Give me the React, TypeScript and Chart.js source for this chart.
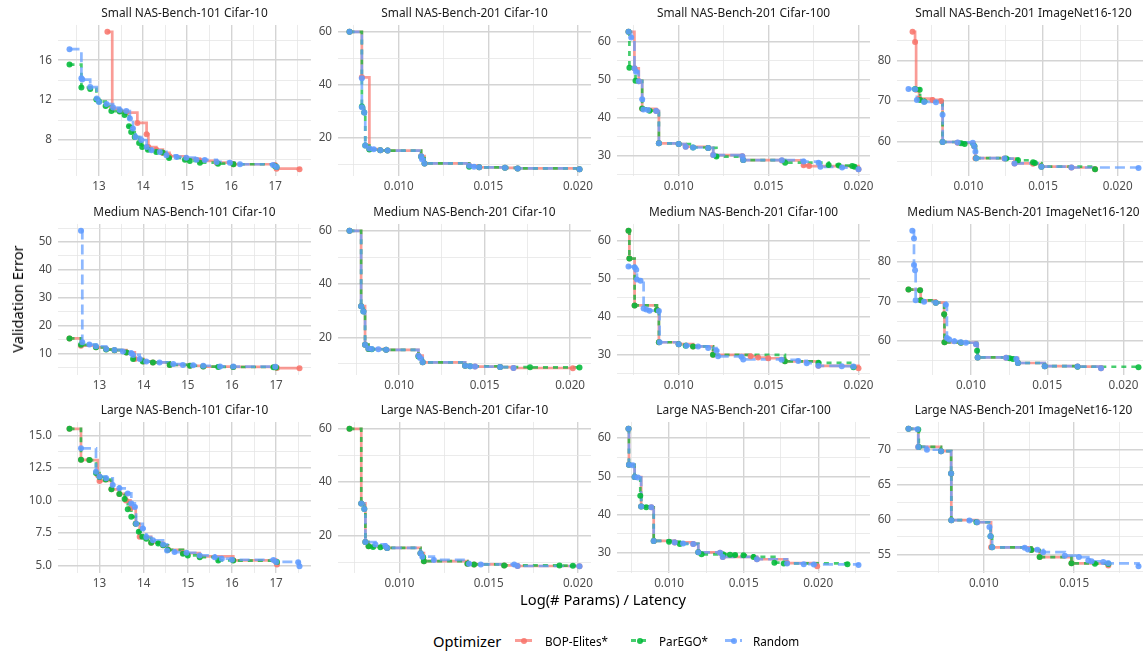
import React, { useEffect, useRef } from "react";
import { Chart, registerables } from "chart.js";

Chart.register(...registerables);
Chart.defaults.font.family = "'Noto Sans', 'DejaVu Sans', sans-serif";

type Pt = [number, number];

const optimizers = ["BOP-Elites*", "ParEGO*", "Random"];
const optimizerColors = ["#F8766D", "#00BA38", "#619CFF"];
const optimizerDashes: number[][] = [[], [5, 5], [10, 5]];

const panelTitles = [
  "Small NAS-Bench-101 Cifar-10",
  "Small NAS-Bench-201 Cifar-10",
  "Small NAS-Bench-201 Cifar-100",
  "Small NAS-Bench-201 ImageNet16-120",
  "Medium NAS-Bench-101 Cifar-10",
  "Medium NAS-Bench-201 Cifar-10",
  "Medium NAS-Bench-201 Cifar-100",
  "Medium NAS-Bench-201 ImageNet16-120",
  "Large NAS-Bench-101 Cifar-10",
  "Large NAS-Bench-201 Cifar-10",
  "Large NAS-Bench-201 Cifar-100",
  "Large NAS-Bench-201 ImageNet16-120",
];

// ---------- Small NAS-Bench-101 Cifar-10 ----------
const p1Bop: Pt[] = [[13.19, 18.84], [13.3, 11.15], [13.47, 10.9], [13.62, 10.75], [13.87, 9.71], [14.08, 8.57], [14.12, 7.3], [14.3, 7.03], [14.45, 6.7], [14.6, 6.37], [14.98, 6.13], [15.29, 5.9], [15.67, 5.73], [16.05, 5.57], [16.99, 5.5], [17.03, 5.13], [17.55, 5.08]];
const p1Parego: Pt[] = [[12.33, 15.56], [12.6, 13.26], [12.8, 13.12], [12.94, 12.05], [13.0, 11.85], [13.15, 11.4], [13.28, 10.9], [13.47, 10.85], [13.58, 10.5], [13.68, 9.38], [13.73, 8.8], [13.81, 8.3], [13.91, 7.7], [13.98, 7.3], [14.11, 7.03], [14.3, 6.8], [14.44, 6.74], [14.59, 6.2], [14.95, 6.03], [15.06, 5.9], [15.29, 5.73], [15.7, 5.63], [16.05, 5.57], [16.99, 5.4], [17.03, 5.3]];
const p1Random: Pt[] = [[12.33, 17.1], [12.6, 14.2], [12.62, 14.06], [12.8, 13.3], [12.95, 12.15], [13.0, 11.8], [13.17, 11.6], [13.32, 11.25], [13.47, 11.0], [13.62, 10.9], [13.7, 10.15], [13.77, 9.15], [13.83, 8.3], [13.96, 8.0], [14.08, 7.3], [14.19, 6.97], [14.38, 6.8], [14.53, 6.47], [14.76, 6.3], [14.98, 6.23], [15.21, 6.03], [15.4, 6.0], [15.67, 5.8], [15.97, 5.73], [16.2, 5.57], [16.95, 5.5], [17.03, 5.3]];

// ---------- Small NAS-Bench-201 Cifar-10 ----------
const p2Bop: Pt[] = [[0.00725, 60.0], [0.00794, 42.8], [0.00836, 15.7], [0.00897, 15.2], [0.00938, 15.1], [0.01125, 13.0], [0.01144, 10.25], [0.01393, 9.4], [0.01449, 8.8], [0.01593, 8.6], [0.01664, 8.35], [0.02009, 8.1]];
const p2Parego: Pt[] = [[0.00725, 60.0], [0.00794, 31.8], [0.00807, 29.5], [0.00813, 17.0], [0.00836, 15.5], [0.00897, 15.2], [0.00938, 15.1], [0.01125, 12.8], [0.01144, 10.25], [0.01393, 9.0], [0.01449, 8.8], [0.01593, 8.6], [0.01664, 8.35], [0.02009, 8.1]];
const p2Random: Pt[] = [[0.00725, 60.0], [0.00794, 42.5], [0.00794, 31.5], [0.00807, 29.5], [0.00813, 17.0], [0.00836, 15.9], [0.0086, 15.6], [0.00897, 15.2], [0.00938, 15.1], [0.01125, 13.0], [0.0113, 11.8], [0.01144, 10.25], [0.01393, 9.4], [0.0142, 9.0], [0.01449, 8.8], [0.01593, 8.6], [0.01664, 8.35], [0.02009, 8.1]];

// ---------- Small NAS-Bench-201 Cifar-100 ----------
const p3Bop: Pt[] = [[0.00721, 62.6], [0.00754, 53.0], [0.00778, 49.6], [0.00797, 42.3], [0.00875, 41.7], [0.0089, 33.2], [0.01, 33.0], [0.01039, 32.3], [0.01164, 32.0], [0.01192, 30.1], [0.01354, 29.8], [0.01359, 28.8], [0.01574, 28.7], [0.01695, 27.4], [0.01725, 27.2], [0.02, 26.4]];
const p3Parego: Pt[] = [[0.00721, 62.6], [0.00726, 53.1], [0.0076, 49.7], [0.00797, 42.4], [0.00838, 41.8], [0.0089, 33.2], [0.01, 33.0], [0.0108, 32.1], [0.01164, 32.0], [0.0121, 29.7], [0.01359, 28.8], [0.01592, 28.1], [0.01834, 27.5], [0.0189, 27.35], [0.01965, 27.25], [0.01978, 27.0]];
const p3Random: Pt[] = [[0.00721, 62.6], [0.00736, 61.1], [0.00754, 53.0], [0.00763, 52.1], [0.00778, 49.6], [0.00797, 44.8], [0.00804, 42.1], [0.00829, 42.0], [0.00875, 41.7], [0.0089, 33.2], [0.01, 33.0], [0.01039, 32.3], [0.0108, 32.1], [0.01164, 32.0], [0.01192, 30.1], [0.01354, 29.8], [0.01359, 28.8], [0.01574, 28.75], [0.01695, 28.4], [0.01778, 28.1], [0.01788, 27.0], [0.01909, 26.8], [0.02, 26.4]];

// ---------- Small NAS-Bench-201 ImageNet16-120 ----------
const p4Bop: Pt[] = [[0.00626, 87.1], [0.00643, 84.6], [0.0065, 72.8], [0.0067, 70.6], [0.0076, 70.3], [0.00816, 70.0], [0.00827, 59.9], [0.00928, 59.7], [0.0104, 58.8], [0.01047, 55.9], [0.01242, 55.8], [0.01309, 54.6], [0.01433, 54.5], [0.01489, 53.8], [0.0169, 53.6], [0.01848, 53.2]];
const p4Parego: Pt[] = [[0.00643, 73.0], [0.00674, 72.8], [0.00677, 70.3], [0.00704, 69.9], [0.00827, 59.9], [0.00951, 59.6], [0.00975, 59.4], [0.0104, 58.9], [0.01052, 55.9], [0.01253, 55.8], [0.01332, 55.4], [0.01433, 54.9], [0.01445, 54.7], [0.01489, 53.8], [0.01848, 53.2]];
const p4Random: Pt[] = [[0.00599, 73.0], [0.00643, 72.9], [0.00655, 70.3], [0.00704, 69.8], [0.00783, 69.7], [0.00827, 66.6], [0.00828, 59.9], [0.00928, 59.8], [0.01029, 59.7], [0.0104, 58.8], [0.01047, 57.5], [0.01052, 55.9], [0.01242, 55.8], [0.01309, 54.6], [0.01489, 53.8], [0.0169, 53.6], [0.02139, 53.5]];

// ---------- Medium NAS-Bench-101 Cifar-10 ----------
const p5Bop: Pt[] = [[12.32, 15.4], [12.58, 12.8], [12.92, 12.2], [13.15, 11.5], [13.34, 11.2], [13.61, 10.4], [13.8, 8.0], [14.0, 7.1], [14.21, 6.8], [14.59, 5.9], [15.05, 5.6], [15.35, 5.3], [16.03, 5.2], [16.98, 5.15], [17.02, 4.78], [17.53, 4.75]];
const p5Parego: Pt[] = [[12.32, 15.4], [12.58, 13.1], [12.92, 12.2], [13.15, 11.4], [13.34, 11.2], [13.61, 10.4], [13.76, 8.0], [13.98, 7.1], [14.21, 6.8], [14.59, 5.9], [15.05, 5.6], [15.35, 5.3], [15.69, 5.2], [16.03, 5.15], [16.94, 5.1], [17.0, 5.0]];
const p5Random: Pt[] = [[12.58, 54.0], [12.61, 14.0], [12.77, 13.2], [12.92, 12.6], [13.15, 11.6], [13.34, 11.3], [13.53, 10.7], [13.72, 10.1], [13.76, 9.5], [13.91, 8.0], [14.06, 7.1], [14.36, 6.8], [14.67, 6.2], [14.89, 5.9], [15.12, 5.8], [15.35, 5.6], [15.73, 5.35], [16.03, 5.3], [16.98, 5.25]];

// ---------- Medium NAS-Bench-201 Cifar-10 ----------
const p6Bop: Pt[] = [[0.0071, 60.0], [0.00778, 31.7], [0.00801, 17.2], [0.00821, 15.6], [0.00924, 15.3], [0.01113, 13.1], [0.01138, 10.6], [0.01386, 9.3], [0.01444, 9.0], [0.01591, 8.8], [0.01669, 8.45], [0.02016, 8.4]];
const p6Parego: Pt[] = [[0.0071, 60.0], [0.00778, 31.7], [0.00791, 29.7], [0.00801, 17.2], [0.00821, 15.6], [0.0084, 15.5], [0.00924, 15.3], [0.01113, 12.8], [0.01138, 10.6], [0.01386, 9.3], [0.01415, 9.1], [0.01591, 8.8], [0.01766, 8.7], [0.02055, 8.65]];
const p6Random: Pt[] = [[0.0071, 60.0], [0.00778, 31.7], [0.00791, 29.7], [0.00801, 17.2], [0.00821, 15.8], [0.0084, 15.6], [0.00879, 15.5], [0.00924, 15.3], [0.01113, 13.1], [0.01123, 12.2], [0.01138, 10.6], [0.01386, 9.3], [0.01415, 9.1], [0.01444, 9.0], [0.01591, 8.8], [0.01669, 8.45]];

// ---------- Medium NAS-Bench-201 Cifar-100 ----------
const p7Bop: Pt[] = [[0.00721, 62.5], [0.00726, 55.2], [0.00755, 42.9], [0.00879, 41.7], [0.0089, 33.2], [0.01, 32.7], [0.0108, 32.1], [0.01191, 29.9], [0.014, 29.5], [0.01442, 29.2], [0.01498, 29.0], [0.01591, 28.2], [0.01777, 27.0], [0.02, 26.4]];
const p7Parego: Pt[] = [[0.00721, 62.5], [0.00726, 55.2], [0.00755, 42.9], [0.00879, 41.7], [0.0089, 33.2], [0.01, 32.7], [0.01039, 32.3], [0.0108, 32.1], [0.01191, 29.9], [0.01591, 28.2], [0.01777, 27.8], [0.01972, 26.6]];
const p7Random: Pt[] = [[0.00721, 53.1], [0.00755, 52.9], [0.00764, 52.3], [0.00768, 49.7], [0.00788, 49.4], [0.00805, 42.1], [0.0082, 41.8], [0.00838, 41.5], [0.0089, 41.4], [0.00894, 33.2], [0.01, 32.7], [0.01043, 32.3], [0.01108, 32.1], [0.01164, 31.7], [0.0121, 31.0], [0.01219, 29.5], [0.01349, 29.4], [0.01359, 28.7], [0.01572, 28.6], [0.01665, 28.3], [0.01712, 27.7], [0.01777, 27.0], [0.01907, 26.9], [0.01972, 26.8]];

// ---------- Medium NAS-Bench-201 ImageNet16-120 ----------
const p8Bop: Pt[] = [[0.0059, 73.0], [0.00666, 72.8], [0.0067, 70.3], [0.00769, 69.7], [0.00824, 66.8], [0.00826, 59.7], [0.00934, 59.6], [0.01033, 59.2], [0.01044, 55.9], [0.01231, 55.8], [0.01308, 54.5], [0.01484, 53.7], [0.01699, 53.6], [0.01853, 53.2]];
const p8Parego: Pt[] = [[0.0059, 73.0], [0.00666, 72.8], [0.0067, 70.3], [0.00769, 69.7], [0.00824, 66.8], [0.00826, 59.7], [0.00934, 59.6], [0.0104, 57.6], [0.01044, 55.9], [0.01253, 55.7], [0.01275, 55.5], [0.01308, 54.5], [0.01484, 53.7], [0.01699, 53.55], [0.02099, 53.4]];
const p8Random: Pt[] = [[0.00615, 87.8], [0.00626, 85.9], [0.00626, 79.2], [0.00633, 77.9], [0.00637, 70.3], [0.00692, 69.9], [0.00769, 69.7], [0.00835, 69.2], [0.00842, 60.8], [0.00857, 60.4], [0.0089, 60.0], [0.00934, 59.7], [0.00967, 59.6], [0.01033, 59.2], [0.01044, 55.9], [0.01231, 55.8], [0.01297, 55.5], [0.01308, 54.5], [0.01484, 53.7], [0.01699, 53.6], [0.01853, 53.2]];

// ---------- Large NAS-Bench-101 Cifar-10 ----------
const p9Bop: Pt[] = [[12.32, 15.5], [12.58, 13.12], [12.77, 13.1], [12.96, 11.96], [13.0, 11.5], [13.27, 10.85], [13.45, 10.5], [13.6, 10.0], [13.7, 9.4], [13.82, 8.2], [13.91, 7.2], [14.17, 6.75], [14.44, 6.55], [14.55, 6.2], [14.89, 5.95], [15.27, 5.7], [16.03, 5.4], [16.98, 5.35], [17.02, 5.08]];
const p9Parego: Pt[] = [[12.32, 15.5], [12.58, 13.12], [12.77, 13.1], [12.92, 12.1], [13.0, 11.8], [13.14, 11.6], [13.27, 10.85], [13.45, 10.5], [13.57, 10.1], [13.64, 9.33], [13.72, 8.74], [13.82, 8.2], [13.89, 7.6], [13.97, 7.2], [14.06, 7.06], [14.17, 6.75], [14.33, 6.68], [14.44, 6.55], [14.55, 6.2], [14.89, 5.9], [15.0, 5.77], [15.27, 5.64], [15.69, 5.39], [16.03, 5.38], [17.02, 5.26]];
const p9Random: Pt[] = [[12.58, 14.0], [12.92, 12.2], [13.0, 11.83], [13.15, 11.7], [13.3, 11.19], [13.45, 10.93], [13.64, 10.54], [13.72, 9.77], [13.8, 9.5], [13.83, 8.2], [13.98, 7.84], [14.06, 7.19], [14.21, 6.93], [14.44, 6.62], [14.53, 6.16], [14.7, 6.03], [14.97, 5.98], [15.27, 5.77], [15.61, 5.64], [15.77, 5.52], [16.0, 5.44], [16.94, 5.42], [17.0, 5.27], [17.5, 5.25], [17.53, 4.95]];

// ---------- Large NAS-Bench-201 Cifar-10 ----------
const p10Bop: Pt[] = [[0.0072, 60.0], [0.00786, 32.0], [0.00809, 17.5], [0.00827, 15.9], [0.00931, 15.3], [0.01118, 13.3], [0.01137, 10.3], [0.01381, 9.3], [0.01418, 9.1], [0.01587, 8.7], [0.01662, 8.5], [0.02009, 8.45]];
const p10Parego: Pt[] = [[0.0072, 60.0], [0.00786, 32.0], [0.00803, 29.9], [0.00809, 17.5], [0.00827, 15.9], [0.00852, 15.6], [0.00893, 15.5], [0.00931, 15.3], [0.01118, 13.3], [0.01133, 11.8], [0.01137, 10.3], [0.01381, 9.3], [0.01418, 9.1], [0.01587, 8.7], [0.01897, 8.65], [0.01972, 8.6]];
const p10Random: Pt[] = [[0.00786, 32.0], [0.00803, 29.9], [0.00809, 17.5], [0.00865, 16.6], [0.00921, 16.0], [0.00931, 15.3], [0.01118, 13.3], [0.01128, 12.0], [0.01193, 10.8], [0.0139, 9.3], [0.01456, 9.1], [0.01643, 9.05], [0.01662, 8.5], [0.02009, 8.45]];

// ---------- Large NAS-Bench-201 Cifar-100 ----------
const p11Bop: Pt[] = [[0.00728, 62.4], [0.00731, 53.0], [0.00769, 49.8], [0.00813, 42.1], [0.00881, 41.9], [0.00897, 33.1], [0.01038, 32.7], [0.01162, 32.3], [0.01196, 30.1], [0.01342, 30.0], [0.0136, 28.9], [0.01589, 28.3], [0.01791, 27.3], [0.01993, 26.5]];
const p11Parego: Pt[] = [[0.00728, 62.4], [0.00731, 53.0], [0.00769, 49.8], [0.00807, 44.9], [0.00813, 42.1], [0.00847, 41.9], [0.00897, 33.1], [0.01, 32.9], [0.01072, 32.3], [0.01196, 30.1], [0.01218, 29.6], [0.01364, 29.55], [0.01409, 29.5], [0.01443, 29.4], [0.01499, 29.35], [0.01566, 28.9], [0.01706, 27.4], [0.01769, 27.2], [0.02196, 27.0]];
const p11Random: Pt[] = [[0.00728, 62.4], [0.00731, 53.0], [0.00757, 52.9], [0.00769, 49.8], [0.00791, 49.7], [0.00813, 42.1], [0.00881, 41.9], [0.00897, 33.1], [0.01038, 32.7], [0.01094, 32.4], [0.01162, 32.3], [0.01196, 30.1], [0.01342, 30.0], [0.0136, 28.9], [0.01589, 28.3], [0.01791, 27.2], [0.01903, 27.0], [0.01971, 26.95], [0.0227, 26.8]];

// ---------- Large NAS-Bench-201 ImageNet16-120 ----------
const p12Bop: Pt[] = [[0.00583, 73.0], [0.00637, 70.4], [0.00763, 69.8], [0.00819, 66.6], [0.0082, 59.9], [0.00963, 59.6], [0.0104, 56.0], [0.01263, 55.6], [0.01309, 54.6], [0.01485, 53.7], [0.01689, 53.4]];
const p12Parego: Pt[] = [[0.00583, 73.0], [0.00637, 72.9], [0.0064, 70.4], [0.00763, 69.8], [0.00819, 66.6], [0.0082, 59.9], [0.00959, 59.6], [0.01037, 57.6], [0.01046, 56.0], [0.01263, 55.6], [0.01309, 54.6], [0.01485, 53.7], [0.01615, 53.65], [0.01689, 53.6]];
const p12Random: Pt[] = [[0.00583, 73.0], [0.00633, 72.95], [0.00637, 70.4], [0.00685, 70.0], [0.00763, 69.8], [0.00819, 66.6], [0.0082, 59.9], [0.0092, 59.85], [0.00963, 59.6], [0.01031, 58.9], [0.01037, 57.6], [0.01046, 56.0], [0.01226, 55.95], [0.01244, 55.7], [0.01296, 55.65], [0.01328, 55.3], [0.01448, 54.8], [0.01526, 54.6], [0.01578, 54.1], [0.01596, 54.0], [0.01661, 53.9], [0.01689, 53.7], [0.01856, 53.3]];

// ---------- tick values ----------
const nb101XMajor = [13, 14, 15, 16, 17];
const nb101XMinor = [12.5, 13.5, 14.5, 15.5, 16.5, 17.5];
const nb201XMajor = [0.005, 0.01, 0.015, 0.02];
const nb201XMinor = [0.0075, 0.0125, 0.0175, 0.0225];
const ySmall101Major = [8, 12, 16];
const ySmall101Minor = [6, 10, 14, 18];
const yC10Major = [20, 40, 60];
const yC10Minor = [10, 30, 50];
const yC100Major = [30, 40, 50, 60];
const yC100Minor = [25, 35, 45, 55];
const yINMajor = [60, 70, 80];
const yINMinor = [55, 65, 75, 85];
const yMed101Major = [10, 20, 30, 40, 50];
const yMed101Minor = [5, 15, 25, 35, 45, 55];
const yLarge101Major = [5, 7.5, 10, 12.5, 15];
const yLarge101Minor = [6.25, 8.75, 11.25, 13.75];
const yLargeINMajor = [55, 60, 65, 70];
const yLargeINMinor = [52.5, 57.5, 62.5, 67.5, 72.5];

type PanelCfg = {
  series: Pt[][];
  xMajor: number[]; xMinor: number[]; xDigits: number;
  yMajor: number[]; yMinor: number[]; yDigits: number;
};

const panels: PanelCfg[] = [
  { series: [p1Bop, p1Parego, p1Random], xMajor: nb101XMajor, xMinor: nb101XMinor, xDigits: 0, yMajor: ySmall101Major, yMinor: ySmall101Minor, yDigits: 0 },
  { series: [p2Bop, p2Parego, p2Random], xMajor: nb201XMajor, xMinor: nb201XMinor, xDigits: 3, yMajor: yC10Major, yMinor: yC10Minor, yDigits: 0 },
  { series: [p3Bop, p3Parego, p3Random], xMajor: nb201XMajor, xMinor: nb201XMinor, xDigits: 3, yMajor: yC100Major, yMinor: yC100Minor, yDigits: 0 },
  { series: [p4Bop, p4Parego, p4Random], xMajor: nb201XMajor, xMinor: nb201XMinor, xDigits: 3, yMajor: yINMajor, yMinor: yINMinor, yDigits: 0 },
  { series: [p5Bop, p5Parego, p5Random], xMajor: nb101XMajor, xMinor: nb101XMinor, xDigits: 0, yMajor: yMed101Major, yMinor: yMed101Minor, yDigits: 0 },
  { series: [p6Bop, p6Parego, p6Random], xMajor: nb201XMajor, xMinor: nb201XMinor, xDigits: 3, yMajor: yC10Major, yMinor: yC10Minor, yDigits: 0 },
  { series: [p7Bop, p7Parego, p7Random], xMajor: nb201XMajor, xMinor: nb201XMinor, xDigits: 3, yMajor: yC100Major, yMinor: yC100Minor, yDigits: 0 },
  { series: [p8Bop, p8Parego, p8Random], xMajor: nb201XMajor, xMinor: nb201XMinor, xDigits: 3, yMajor: yINMajor, yMinor: yINMinor, yDigits: 0 },
  { series: [p9Bop, p9Parego, p9Random], xMajor: nb101XMajor, xMinor: nb101XMinor, xDigits: 0, yMajor: yLarge101Major, yMinor: yLarge101Minor, yDigits: 1 },
  { series: [p10Bop, p10Parego, p10Random], xMajor: nb201XMajor, xMinor: nb201XMinor, xDigits: 3, yMajor: yC10Major, yMinor: yC10Minor, yDigits: 0 },
  { series: [p11Bop, p11Parego, p11Random], xMajor: nb201XMajor, xMinor: nb201XMinor, xDigits: 3, yMajor: yC100Major, yMinor: yC100Minor, yDigits: 0 },
  { series: [p12Bop, p12Parego, p12Random], xMajor: nb201XMajor, xMinor: nb201XMinor, xDigits: 3, yMajor: yLargeINMajor, yMinor: yLargeINMinor, yDigits: 0 },
];

// ---------- layout ----------
const COL_LEFT = [58, 338, 617, 897];
const ROW_TOP = [25, 224, 422];
const PW = 253;
const PH = 151;
const YAX = 44;
const TITLE_H = 25;
const XAX = 22;
const RPAD = 18;

const MAJOR_GRID = "#D4D4D4";
const MINOR_GRID = "#E6E6E6";
const TICK_COLOR = "#4D4D4D";

function hexA(hex: string, a: number) {
  const r = parseInt(hex.slice(1, 3), 16);
  const g = parseInt(hex.slice(3, 5), 16);
  const b = parseInt(hex.slice(5, 7), 16);
  return `rgba(${r},${g},${b},${a})`;
}

function near(list: number[], v: number) {
  return list.some((m) => Math.abs(m - v) < 1e-9);
}

function expanded(vals: number[]) {
  const lo = Math.min(...vals);
  const hi = Math.max(...vals);
  const pad = (hi - lo) * 0.05;
  return [lo - pad, hi + pad];
}

function Panel({ idx }: { idx: number }) {
  const ref = useRef<HTMLCanvasElement>(null);
  const cfg = panels[idx];
  const w = YAX + PW + RPAD;
  const h = TITLE_H + PH + XAX;

  useEffect(() => {
    if (!ref.current) return;
    const all = cfg.series.flat();
    const [xmin, xmax] = expanded(all.map((p) => p[0]));
    const [ymin, ymax] = expanded(all.map((p) => p[1]));

    const lineSets = cfg.series.map((s, i) => ({
      label: optimizers[i] + " line",
      data: s.map(([x, y]) => ({ x, y })),
      showLine: true,
      stepped: "before" as const,
      borderColor: hexA(optimizerColors[i], 0.72),
      borderWidth: 2.7,
      borderDash: optimizerDashes[i],
      pointRadius: 0,
      pointHoverRadius: 0,
      fill: false,
    }));
    const pointSets = cfg.series.map((s, i) => ({
      label: optimizers[i],
      data: s.map(([x, y]) => ({ x, y })),
      showLine: false,
      pointRadius: 3,
      pointHoverRadius: 3,
      pointBorderWidth: 0,
      pointBackgroundColor: hexA(optimizerColors[i], 0.88),
      borderColor: hexA(optimizerColors[i], 0.88),
    }));
    // Chart.js draws dataset 0 last (on top): reverse so Random points end on top
    const datasets = [...pointSets].reverse().concat([...lineSets].reverse());

    const mkTicks = (major: number[], minor: number[], lo: number, hi: number) =>
      [...major, ...minor]
        .filter((v) => v >= lo && v <= hi)
        .sort((a, b) => a - b)
        .map((v) => ({ value: v }));

    const chart = new Chart(ref.current, {
      type: "line",
      data: { datasets: datasets as any },
      options: {
        responsive: false,
        animation: false,
        events: [],
        layout: { padding: { left: 0, right: RPAD, top: 0, bottom: 0 } },
        plugins: {
          legend: { display: false },
          tooltip: { enabled: false },
          title: {
            display: true,
            text: panelTitles[idx],
            fullSize: false,
            color: "#1A1A1A",
            font: { size: 11.9, weight: "normal", lineHeight: 1.2 },
            padding: { top: 6.4, bottom: 4.3 },
          },
        },
        scales: {
          x: {
            type: "linear",
            min: xmin,
            max: xmax,
            border: { display: false },
            grid: {
              drawTicks: false,
              color: (c: any) => (near(cfg.xMajor, c.tick?.value) ? MAJOR_GRID : MINOR_GRID),
              lineWidth: (c: any) => (near(cfg.xMajor, c.tick?.value) ? 1.4 : 0.8),
            },
            ticks: {
              autoSkip: false,
              maxRotation: 0,
              minRotation: 0,
              padding: 4,
              color: TICK_COLOR,
              font: { size: 11.7 },
              callback: (v: any) => (near(cfg.xMajor, Number(v)) ? Number(v).toFixed(cfg.xDigits) : ""),
            },
            afterBuildTicks: (s: any) => {
              s.ticks = mkTicks(cfg.xMajor, cfg.xMinor, xmin, xmax);
            },
            afterFit: (s: any) => {
              s.height = XAX;
              s.paddingLeft = 0;
              s.paddingRight = 0;
            },
          },
          y: {
            type: "linear",
            min: ymin,
            max: ymax,
            border: { display: false },
            grid: {
              drawTicks: false,
              color: (c: any) => (near(cfg.yMajor, c.tick?.value) ? MAJOR_GRID : MINOR_GRID),
              lineWidth: (c: any) => (near(cfg.yMajor, c.tick?.value) ? 1.4 : 0.8),
            },
            ticks: {
              autoSkip: false,
              padding: 6,
              color: TICK_COLOR,
              font: { size: 11.7 },
              callback: (v: any) => (near(cfg.yMajor, Number(v)) ? Number(v).toFixed(cfg.yDigits) : ""),
            },
            afterBuildTicks: (s: any) => {
              s.ticks = mkTicks(cfg.yMajor, cfg.yMinor, ymin, ymax);
            },
            afterFit: (s: any) => {
              s.width = YAX;
              s.paddingTop = 0;
              s.paddingBottom = 0;
            },
          },
        },
      } as any,
    });
    return () => chart.destroy();
  }, [idx]);

  const left = COL_LEFT[idx % 4] - YAX;
  const top = ROW_TOP[Math.floor(idx / 4)] - TITLE_H;
  return (
    <canvas
      ref={ref}
      width={w}
      height={h}
      style={{ position: "absolute", left, top, width: w, height: h }}
    />
  );
}

function LegendKey({ i, left }: { i: number; left: number }) {
  const c = hexA(optimizerColors[i], 0.72);
  const dash = optimizerDashes[i];
  const bg =
    dash.length === 0
      ? c
      : `repeating-linear-gradient(to right, ${c} 0px, ${c} ${dash[0]}px, transparent ${dash[0]}px, transparent ${dash[0] + dash[1]}px)`;
  return (
    <div style={{ position: "absolute", left, top: 632, width: 17, height: 17 }}>
      <div style={{ position: "absolute", left: 0, top: 7, width: 17, height: 2.7, background: bg }} />
      <div
        style={{
          position: "absolute",
          left: 5.5,
          top: 5.5,
          width: 6,
          height: 6,
          borderRadius: 3,
          background: hexA(optimizerColors[i], 0.88),
        }}
      />
    </div>
  );
}

export default function App() {
  const font = "'Noto Sans', 'DejaVu Sans', sans-serif";
  const keyLefts = [515, 631, 725];
  const labelLefts = [545, 659, 753];
  return (
    <div
      style={{
        position: "absolute",
        left: 0,
        top: 0,
        width: 1143,
        height: 651,
        overflow: "hidden",
        background: "#FFFFFF",
        fontFamily: font,
      }}
    >
      {panels.map((_, i) => (
        <Panel key={i} idx={i} />
      ))}
      <div
        style={{
          position: "absolute",
          left: 17,
          top: 299,
          transform: "translate(-50%, -50%) rotate(-90deg)",
          whiteSpace: "nowrap",
          fontSize: 14.7,
          color: "#000",
        }}
      >
        Validation Error
      </div>
      <div
        style={{
          position: "absolute",
          left: 603,
          top: 599,
          transform: "translate(-50%, -50%)",
          whiteSpace: "nowrap",
          fontSize: 14.7,
          color: "#000",
        }}
      >
        Log(# Params) / Latency
      </div>
      <div
        style={{
          position: "absolute",
          left: 433,
          top: 641,
          transform: "translateY(-50%)",
          whiteSpace: "nowrap",
          fontSize: 14.7,
          color: "#000",
        }}
      >
        Optimizer
      </div>
      {optimizers.map((name, i) => (
        <React.Fragment key={name}>
          <LegendKey i={i} left={keyLefts[i]} />
          <div
            style={{
              position: "absolute",
              left: labelLefts[i],
              top: 641,
              transform: "translateY(-50%)",
              whiteSpace: "nowrap",
              fontSize: 11.7,
              color: "#000",
            }}
          >
            {name}
          </div>
        </React.Fragment>
      ))}
    </div>
  );
}
